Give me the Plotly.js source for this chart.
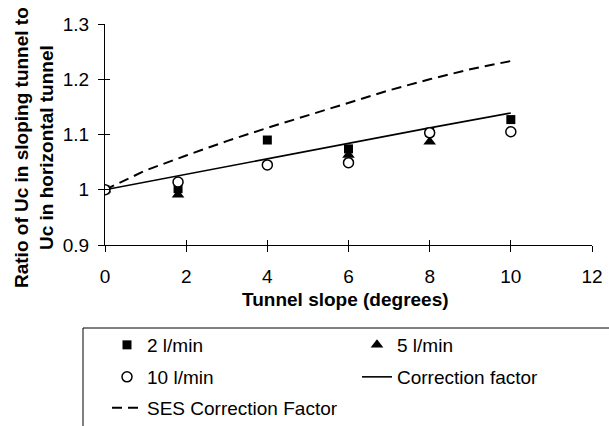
<!DOCTYPE html>
<html>
<head>
<meta charset="utf-8">
<script src="https://cdn.plot.ly/plotly-3.0.1.min.js"></script>
<style>html,body{margin:0;padding:0;background:#fff;}#chart{width:609px;height:426px;}</style>
</head>
<body>
<div id="chart"></div>
<script>
// Data
const slope2 = [0, 1.8, 4, 6, 8, 10];
const ratio2 = [1.0, 1.002, 1.090, 1.074, 1.104, 1.127];
const slope5 = [0, 1.8, 6, 8];
const ratio5 = [1.0, 0.991, 1.063, 1.087];
const slope10 = [0, 1.8, 4, 6, 8, 10];
const ratio10 = [1.0, 1.014, 1.045, 1.049, 1.103, 1.105];
const corrSlope = [0, 2, 4, 6, 8, 10];
const corrFactor = [1.0, 1.028, 1.057, 1.084, 1.112, 1.139];
const sesSlope = [0, 1, 2, 3, 4, 5, 6, 7, 8, 9, 10];
const sesFactor = [1.0, 1.035, 1.062, 1.088, 1.112, 1.135, 1.158, 1.18, 1.2, 1.218, 1.233];
const xTicks = [0, 2, 4, 6, 8, 10, 12];
const yTicks = [0.9, 1.0, 1.1, 1.2, 1.3];
const yTickText = ['0.9', '1', '1.1', '1.2', '1.3'];

const FONT = 'Liberation Sans, Arial, sans-serif';
const W = 609, H = 426;

const traces = [
  {x: corrSlope, y: corrFactor, mode: 'lines', name: 'Correction factor',
   line: {color: '#000', width: 1.6}, legend: 'legend4'},
  {x: sesSlope, y: sesFactor, mode: 'lines', name: 'SES Correction Factor',
   line: {color: '#000', width: 2, dash: '10px,6px'}, legend: 'legend5'},
  {x: slope2, y: ratio2, mode: 'markers', name: '2 l/min',
   marker: {symbol: 'square', size: 9, color: '#000'}, legend: 'legend'},
  {x: slope5, y: ratio5, mode: 'markers', name: '5 l/min',
   marker: {symbol: 'triangle-up', size: 11, color: '#000'}, legend: 'legend2'},
  {x: slope10, y: ratio10, mode: 'markers', name: '10 l/min',
   marker: {symbol: 'circle', size: 10, color: '#fff', line: {color: '#000', width: 1.5}},
   legend: 'legend3'}
];

function leg(px, py) {
  return {
    orientation: 'v', xref: 'container', yref: 'container', xanchor: 'left', yanchor: 'middle',
    x: px / W, y: 1 - py / H, bgcolor: 'rgba(0,0,0,0)', borderwidth: 0,
    font: {family: FONT, size: 19, color: '#000'}
  };
}

const layout = {
  width: W, height: H,
  margin: {l: 105, r: 17, t: 24, b: 181, autoexpand: false},
  paper_bgcolor: '#fff', plot_bgcolor: '#fff',
  font: {family: FONT, size: 19, color: '#000'},
  showlegend: true,
  legend: leg(107, 345),
  legend2: leg(357, 345),
  legend3: leg(107, 377),
  legend4: leg(357, 377),
  legend5: leg(107, 408),
  xaxis: {
    range: [0, 12], tickvals: xTicks, ticktext: xTicks.map(String),
    showgrid: false, zeroline: false, showline: true, linecolor: '#000', linewidth: 1,
    ticks: 'outside', ticklen: 6, tickcolor: '#000', tickwidth: 1, ticklabelstandoff: 8,
    tickfont: {family: FONT, size: 19}, fixedrange: true, automargin: false
  },
  xaxis2: {
    range: [0, 12], tickvals: xTicks, overlaying: 'x', anchor: 'y', showticklabels: false,
    showgrid: false, zeroline: false, showline: false,
    ticks: 'inside', ticklen: 5, tickcolor: '#000', tickwidth: 1
  },
  yaxis: {
    range: [0.9, 1.3], tickvals: yTicks, ticktext: yTickText,
    showgrid: false, zeroline: false, showline: true, linecolor: '#000', linewidth: 1,
    ticks: 'outside', ticklen: 6, tickcolor: '#000', tickwidth: 1, ticklabelstandoff: 5,
    tickfont: {family: FONT, size: 19}, fixedrange: true, automargin: false
  },
  yaxis2: {
    range: [0.9, 1.3], tickvals: yTicks, overlaying: 'y', anchor: 'x', showticklabels: false,
    showgrid: false, zeroline: false, showline: false,
    ticks: 'inside', ticklen: 5, tickcolor: '#000', tickwidth: 1
  },
  annotations: [
    {text: '<b>Tunnel slope (degrees)</b>', xref: 'paper', yref: 'paper',
     x: (345-105)/487, y: -(299-245)/221, xanchor: 'center', yanchor: 'middle',
     showarrow: false, font: {family: FONT, size: 19}},
    {text: '<b>Ratio of Uc in sloping tunnel to<br>Uc in horizontal tunnel</b>', xref: 'paper', yref: 'paper',
     x: -(105-34)/487, y: (245-148)/221, xanchor: 'center', yanchor: 'middle', textangle: -90,
     showarrow: false, font: {family: FONT, size: 19}}
  ],
  shapes: [
    {type: 'line', xref: 'paper', yref: 'paper', x0: (83-105)/487, x1: (620-105)/487,
     y0: -(328-245)/221, y1: -(328-245)/221, line: {color: '#000', width: 1}},
    {type: 'line', xref: 'paper', yref: 'paper', x0: (83-105)/487, x1: (83-105)/487,
     y0: -(328-245)/221, y1: -(440-245)/221, line: {color: '#000', width: 1}}
  ]
};

// invisible trace on overlay axes so the crossing (inside) tick marks are drawn
traces.push({x: [0], y: [1], xaxis: 'x2', yaxis: 'y2', mode: 'markers', marker: {opacity: 0},
  showlegend: false, hoverinfo: 'skip'});

Plotly.newPlot('chart', traces, layout, {displayModeBar: false, staticPlot: true});
</script>
</body>
</html>
